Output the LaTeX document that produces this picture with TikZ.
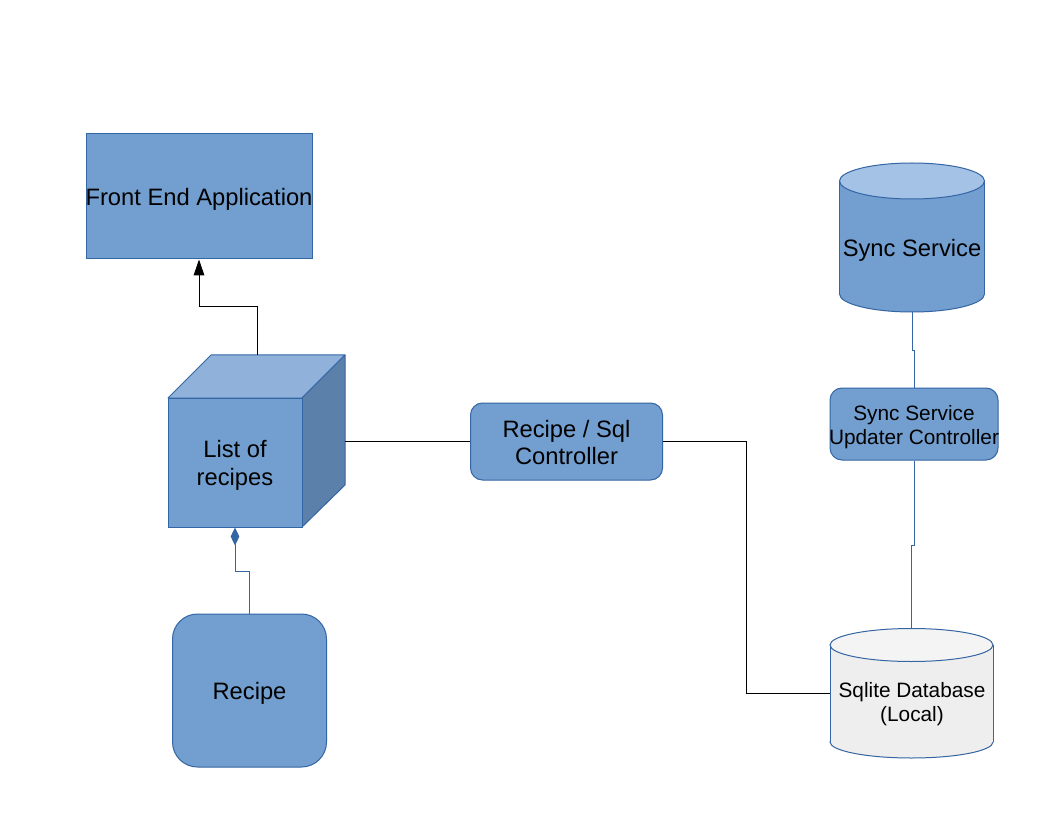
\documentclass[tikz,border=0pt]{standalone}
\usepackage{fontspec}
\setmainfont{Liberation Sans}
\usetikzlibrary{arrows.meta,calc}
\definecolor{boxfill}{HTML}{729FCF}
\definecolor{boxline}{HTML}{3465A4}
\definecolor{cubetopc}{HTML}{8FB1DA}
\definecolor{cubeside}{HTML}{5B80AA}
\definecolor{cyltop}{HTML}{A4C2E5}
\definecolor{dbfill}{HTML}{EEEEEE}
\definecolor{dbtop}{HTML}{F4F4F4}
\begin{document}
\begin{tikzpicture}[x=0.75pt,y=-0.75pt,
  bluebox/.style={draw=boxline, fill=boxfill, line width=0.75pt, inner sep=0pt},
  bigtext/.style={font=\fontsize{17.8}{20.5}\selectfont, align=center, inner sep=0pt},
  smalltext/.style={font=\fontsize{15.6}{17.5}\selectfont, align=center, inner sep=0pt},
  ghost/.style={draw=none, fill=none, inner sep=0pt},
  plainline/.style={draw=black, line width=0.75pt},
  blueline/.style={draw=boxline, line width=0.75pt},
]
\useasboundingbox[fill=white] (0,0) rectangle (1056,816);

% Front End Application
\node[bluebox, minimum width=169.5pt, minimum height=93.75pt,
  label={[bigtext, yshift=-2.25pt]center:Front End Application}] (front) at (199,196.5) {};

% Cube
\filldraw[fill=cubetopc, draw=boxline, line width=0.75pt, line join=round] (168,398) -- (211,355) -- (345,355) -- (302,398) -- cycle;
\filldraw[fill=cubeside, draw=boxline, line width=0.75pt, line join=round] (302,398) -- (345,355) -- (345,485) -- (302,527) -- cycle;
\node[bluebox, minimum width=100.5pt, minimum height=96.75pt,
  label={[bigtext, yshift=-2.25pt]center:{List of\\recipes}}] (cube) at (235,462.5) {};
\coordinate (cubeback) at (257,355);
\coordinate (cuberight) at (345,441);

% Recipe
\node[bluebox, minimum width=115.5pt, minimum height=114.75pt, rounded corners=18.75pt,
  label={[bigtext, yshift=-2.25pt]center:Recipe}] (recipe) at (249.5,690.5) {};

% Recipe / Sql Controller
\node[bluebox, minimum width=144pt, minimum height=57.75pt, rounded corners=9pt,
  label={[bigtext, yshift=-0.75pt]center:{Recipe / Sql\\Controller}}] (ctrl) at (566.5,441.5) {};

% Sync Service cylinder
\node[ghost, minimum width=108.75pt, minimum height=111.75pt] (sync) at (912,237.5) {};
\filldraw[fill=boxfill, draw=boxline, line width=0.75pt] (912,294) ellipse [x radius=72.5, y radius=18];
\fill[boxfill] (839.5,181) rectangle (984.5,294);
\draw[blueline] (839.5,181) -- (839.5,294) (984.5,181) -- (984.5,294);
\filldraw[fill=cyltop, draw=boxline, line width=0.75pt] (912,181) ellipse [x radius=72.5, y radius=18];
\node[bigtext] (synctext) at (912,250) {Sync Service};

% Sync Service Updater Controller
\node[bluebox, minimum width=126pt, minimum height=54pt, rounded corners=9pt,
  label={[smalltext, yshift=-2.25pt]center:{Sync Service\\Updater Controller}}] (upd) at (914,424) {};

% Sqlite Database cylinder
\node[ghost, minimum width=122.25pt, minimum height=97.5pt] (sqlite) at (911.5,693) {};
\filldraw[fill=dbfill, draw=boxline, line width=0.75pt] (911.5,742) ellipse [x radius=81.5, y radius=16];
\fill[dbfill] (830,645) rectangle (993,742);
\draw[blueline] (830,645) -- (830,742) (993,645) -- (993,742);
\filldraw[fill=dbtop, draw=boxline, line width=0.75pt] (911.5,645) ellipse [x radius=81.5, y radius=16.5];
\node[smalltext] (sqlitetext) at (912,704) {Sqlite Database\\(Local)};

% Connectors
\draw[plainline, -{Triangle[length=12pt,width=8pt]}] (cubeback) -- ++(0,-48) -| (front.south);
\draw[plainline] (cuberight) -- (cuberight -| ctrl.west);
\draw[plainline] (ctrl.east) -- ++(83.5,0) |- (sqlite.west);
\draw[blueline, {Diamond[length=13.5pt,width=6.5pt,fill=boxline]}-] (cube.south) -- ++(0,44) -| (recipe.north);
\draw[blueline] (sync.south) -- ++(0,38) -| (upd.north);
\draw[blueline] (upd.south) -- ++(0,85) -| (sqlite.north);
\end{tikzpicture}
\end{document}
